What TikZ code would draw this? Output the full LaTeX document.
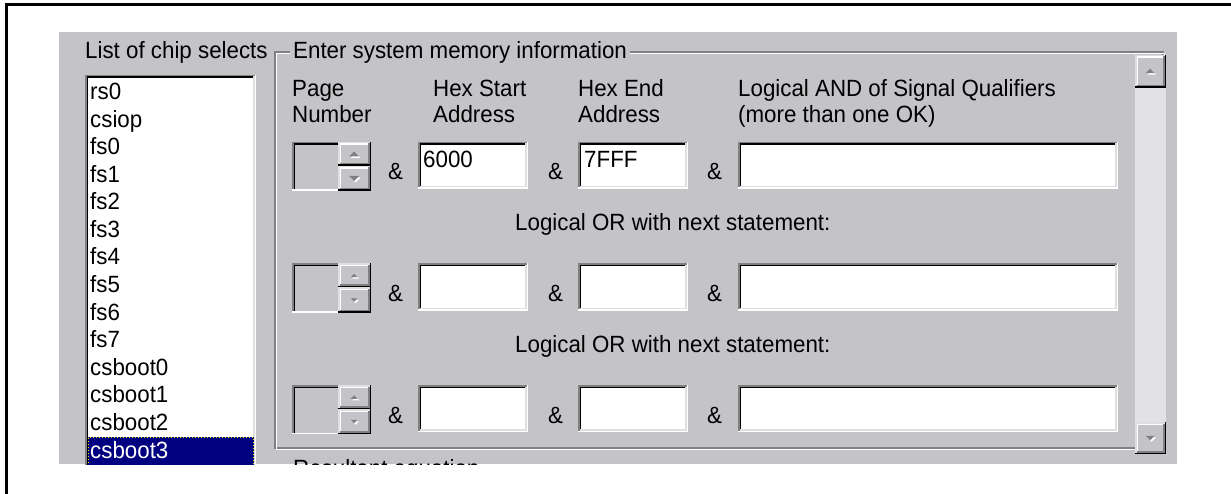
\documentclass[tikz,border=0pt]{standalone}
\usepackage{fontspec}
\setmainfont{Liberation Sans}[FakeStretch=0.95]
\definecolor{panel}{RGB}{196,195,199}
\definecolor{dkgray}{RGB}{128,128,128}
\definecolor{ltgray}{RGB}{223,223,223}
\definecolor{selnavy}{RGB}{0,0,128}
\definecolor{track}{RGB}{226,225,229}
\newcommand{\sunkenbox}[5]{%
  \fill[#5] (#1,#2) rectangle (#3,#4);
  \draw[dkgray,line width=1.5pt] (#1+0.75,#4) -- (#1+0.75,#2+0.75) -- (#3,#2+0.75);
  \draw[black,line width=1.5pt] (#1+2.25,#4-1.5) -- (#1+2.25,#2+2.25) -- (#3-1.5,#2+2.25);
  \draw[white,line width=1.5pt] (#1,#4-0.75) -- (#3-0.75,#4-0.75) -- (#3-0.75,#2);
  \draw[ltgray,line width=1.5pt] (#1+1.5,#4-2.25) -- (#3-2.25,#4-2.25) -- (#3-2.25,#2+1.5);
}
\newcommand{\raisedbtn}[4]{%
  \fill[panel] (#1,#2) rectangle (#3,#4);
  \draw[ltgray,line width=1.5pt] (#1+0.75,#4) -- (#1+0.75,#2+0.75) -- (#3,#2+0.75);
  \draw[white,line width=1.5pt] (#1+2.25,#4-1.5) -- (#1+2.25,#2+2.25) -- (#3-1.5,#2+2.25);
  \draw[black,line width=1.5pt] (#1,#4-0.75) -- (#3-0.75,#4-0.75) -- (#3-0.75,#2);
  \draw[dkgray,line width=1.5pt] (#1+1.5,#4-2.25) -- (#3-2.25,#4-2.25) -- (#3-2.25,#2+1.5);
}
% up / down arrow: centre x, centre y, half width
\newcommand{\uparr}[3]{%
  \fill[white] (#1-#3+1.5,#2+#3/2+1.5) -- (#1+#3+1.5,#2+#3/2+1.5) -- (#1+1.5,#2-#3/2+1.5) -- cycle;
  \fill[dkgray] (#1-#3,#2+#3/2) -- (#1+#3,#2+#3/2) -- (#1,#2-#3/2) -- cycle;
}
\newcommand{\downarr}[3]{%
  \fill[white] (#1-#3+1.5,#2-#3/2+1.5) -- (#1+#3+1.5,#2-#3/2+1.5) -- (#1+1.5,#2+#3/2+1.5) -- cycle;
  \fill[dkgray] (#1-#3,#2-#3/2) -- (#1+#3,#2-#3/2) -- (#1,#2+#3/2) -- cycle;
}
\begin{document}
\begin{tikzpicture}[x=1pt,y=-1pt,
  txt/.style={font=\fontsize{23.5}{27}\selectfont, inner sep=0pt, anchor=base west, text=black}]
\useasboundingbox (0,0) rectangle (1231,494);
\fill[white] (0,0) rectangle (1231,494);
% outer frame (open at right and bottom)
\draw[black,line width=3pt] (6.5,494) -- (6.5,5) -- (1231,5);
% dialog panel
\fill[panel] (59,32) rectangle (1177,464);
\begin{scope}
\clip (59,32) rectangle (1177,464);
% list box
\sunkenbox{85}{75}{256}{500}{white}
\foreach \t [count=\i from 0] in {rs0,csiop,fs0,fs1,fs2,fs3,fs4,fs5,fs6,fs7,csboot0,csboot1,csboot2}
  \node[txt] (item\i) at (90,100+27.5*\i) {\t};
\fill[selnavy] (87.5,437) rectangle (254,470);
\draw[yellow,dotted,line width=1pt] (88,437.5) rectangle (253.5,470);
\node[txt,text=white] (item13) at (90,458) {csboot3};
% cut-off caption at bottom
\node[txt] (result) at (293,476) {Resultant equation};
\end{scope}
% label of list
\node[txt] (listlbl) at (85,59) {List of chip selects};
% group box (etched)
\draw[dkgray,line width=1.5pt] (275,52) rectangle (1163,448);
\draw[white,line width=1.5pt] (276.5,53.5) rectangle (1164.5,449.5);
\node[txt,fill=panel,inner xsep=3pt,inner ysep=2pt] (grplbl) at (290,59) {Enter system memory information};
% column headers
\node[txt] (h1a) at (292,97) {Page};
\node[txt] (h1b) at (292,123) {Number};
\node[txt] (h2a) at (433,97) {Hex Start};
\node[txt] (h2b) at (433,123) {Address};
\node[txt] (h3a) at (578,97) {Hex End};
\node[txt] (h3b) at (578,123) {Address};
\node[txt] (h4a) at (738,97) {Logical AND of Signal Qualifiers};
\node[txt] (h4b) at (738,123) {(more than one OK)};
% rows
\foreach \r/\dy/\aw in {0/0/5,1/121.5/3.5,2/243/3.5}{
  % spin edit (disabled)
  \draw[dkgray,line width=1.5pt] (292.75,191+\dy) -- (292.75,142.75+\dy) -- (338,142.75+\dy);
  \draw[black,line width=1.5pt] (294.25,189.5+\dy) -- (294.25,144.25+\dy) -- (338,144.25+\dy);
  \draw[white,line width=1.5pt] (292,190.25+\dy) -- (338,190.25+\dy);
  \raisedbtn{338}{142+\dy}{371}{166+\dy}
  \raisedbtn{338}{166+\dy}{371}{191+\dy}
  \uparr{354}{154+\dy}{\aw}
  \downarr{354}{178.5+\dy}{\aw}
  \node[txt] (ampa\r) at (388,180+\dy) {\&};
  \sunkenbox{418}{142+\dy}{528}{189+\dy}{white}
  \node[txt] (ampb\r) at (548,180+\dy) {\&};
  \sunkenbox{578}{142+\dy}{688}{189+\dy}{white}
  \node[txt] (ampc\r) at (707,180+\dy) {\&};
  \sunkenbox{738}{142+\dy}{1118}{189+\dy}{white}
}
\node[txt] (start0) at (423,168) {6000};
\node[txt] (end0) at (584,168) {7FFF};
\node[txt] (or1) at (515,231) {Logical OR with next statement:};
\node[txt] (or2) at (515,352.5) {Logical OR with next statement:};
% scroll bar
\fill[track] (1135,88) rectangle (1166,422);
\raisedbtn{1135}{55}{1166}{88}
\raisedbtn{1135}{422}{1166}{454}
\uparr{1150}{71}{4.5}
\downarr{1150}{438}{4.5}
\end{tikzpicture}
\end{document}
